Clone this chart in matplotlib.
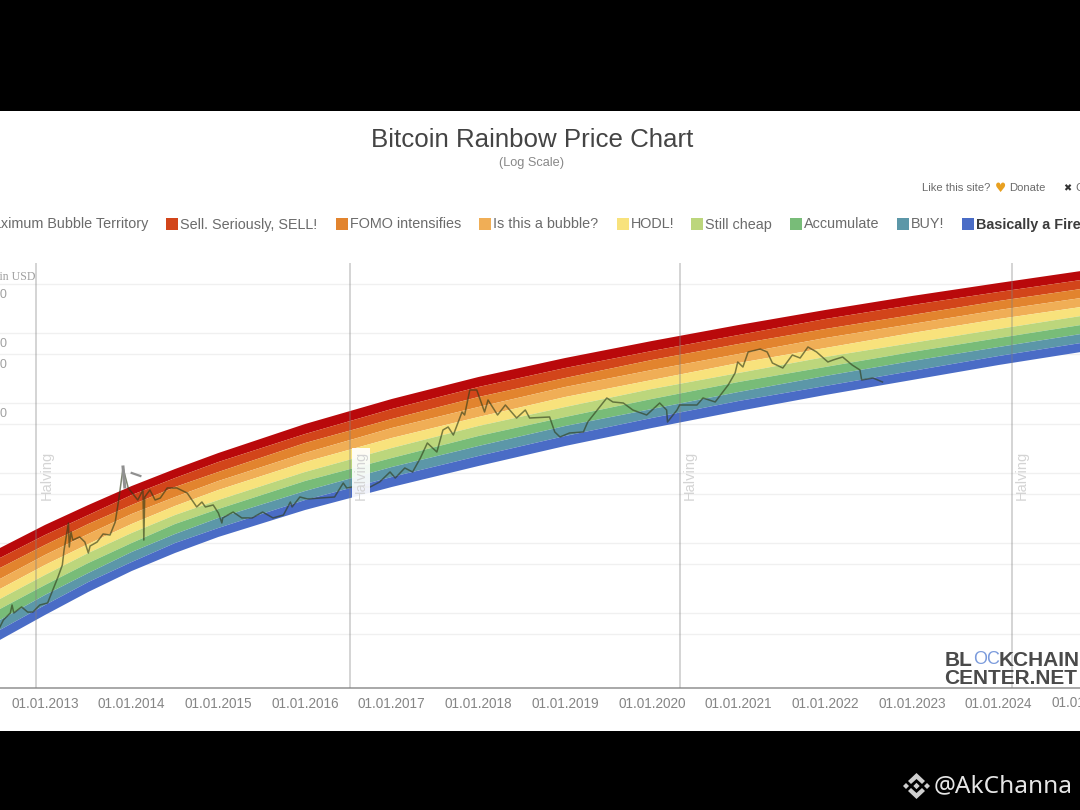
import matplotlib
matplotlib.use("Agg")
import matplotlib.pyplot as plt
from matplotlib.patches import Rectangle, Polygon

plt.rcParams['font.family'] = ['Liberation Sans', 'DejaVu Sans']

TITLE = "Bitcoin Rainbow Price Chart"
SUBTITLE = "(Log Scale)"
band_colors = ['#b9090b', '#d2451a', '#e2842e', '#f0ae56', '#f8e27c',
               '#bcd67c', '#78bc78', '#5c97a8', '#4a6cc6']
legend_labels = ['Maximum Bubble Territory', 'Sell. Seriously, SELL!', 'FOMO intensifies',
                 'Is this a bubble?', 'HODL!', 'Still cheap', 'Accumulate', 'BUY!',
                 'Basically a Fire Sale']

edge_dates = [2012.48, 2013, 2013.5, 2014, 2014.5, 2015, 2016, 2017, 2018, 2019, 2020, 2021, 2022, 2023, 2024, 2024.95]
edge_0 = [84.8, 181, 349, 652, 1141, 1931, 5012, 11410, 23520, 43940, 76850, 130100, 213100, 337700, 517900, 768500]
edge_1 = [61.05, 130, 251, 485, 848, 1436, 3606, 8208, 16930, 31620, 55310, 93630, 158500, 251200, 385400, 571700]
edge_2 = [43.9, 93.6, 187, 349, 631, 1034, 2683, 5907, 12180, 22760, 41150, 69630, 114100, 180800, 286500, 425200]
edge_3 = [30.6, 67.4, 134.5, 260, 454, 769, 1931, 4394, 8766, 16930, 29610, 50120, 84830, 134500, 213100, 316200]
edge_4 = [22.0, 48.5, 96.8, 187, 338, 572, 1436, 3162, 6309, 12180, 21310, 37280, 61050, 100000, 158500, 235200]
edge_5 = [15.85, 34.9, 72, 139, 251, 411, 1034, 2276, 4693, 8766, 15850, 26830, 45410, 71970, 114100, 174900]
edge_6 = [11.4, 25.1, 51.8, 100, 187, 306, 769, 1638, 3377, 6309, 11410, 19950, 32680, 53530, 84830, 130100]
edge_7 = [7.94, 18.1, 37.3, 74.4, 134.5, 228, 553, 1218, 2431, 4693, 8208, 14360, 24310, 39810, 63090, 96750]
edge_8 = [5.72, 13.0, 27.7, 53.5, 100, 164, 411, 877, 1749, 3377, 6105, 10680, 17490, 28650, 46930, 71970]
edge_9 = [4.12, 9.36, 20.0, 39.8, 72, 122, 296, 631, 1259, 2431, 4394, 7685, 13010, 21310, 34900, 53530]
edges = [edge_0, edge_1, edge_2, edge_3, edge_4, edge_5, edge_6, edge_7, edge_8, edge_9]

price_dates = [2012.48, 2012.52, 2012.60, 2012.62, 2012.64, 2012.73, 2012.80, 2012.86, 2012.94, 2013.03,
               2013.09, 2013.15, 2013.20, 2013.22, 2013.27, 2013.28, 2013.30, 2013.32, 2013.40, 2013.46,
               2013.50, 2013.52, 2013.60, 2013.67, 2013.75, 2013.81, 2013.85, 2013.90, 2013.96, 2014.07,
               2014.13, 2014.14, 2014.15, 2014.21, 2014.27, 2014.33, 2014.41, 2014.52, 2014.64, 2014.75,
               2014.81, 2014.85, 2014.94, 2015.00, 2015.04, 2015.05, 2015.17, 2015.27, 2015.39, 2015.51,
               2015.63, 2015.75, 2015.83, 2015.85, 2015.94, 2016.03, 2016.17, 2016.34, 2016.44, 2016.48,
               2016.55, 2016.75, 2016.86, 2016.98, 2017.04, 2017.15, 2017.24, 2017.33, 2017.41, 2017.52,
               2017.59, 2017.65, 2017.71, 2017.81, 2017.84, 2017.90, 2017.98, 2018.07, 2018.11, 2018.22,
               2018.31, 2018.44, 2018.54, 2018.59, 2018.82, 2018.88, 2018.94, 2019.05, 2019.21, 2019.26,
               2019.37, 2019.48, 2019.55, 2019.67, 2019.78, 2019.94, 2020.09, 2020.17, 2020.18, 2020.29,
               2020.32, 2020.52, 2020.59, 2020.73, 2020.88, 2020.96, 2020.99, 2021.05, 2021.11, 2021.25,
               2021.33, 2021.39, 2021.51, 2021.62, 2021.71, 2021.80, 2021.90, 2022.03, 2022.09, 2022.20,
               2022.31, 2022.40, 2022.42, 2022.55, 2022.66]
price_usd = [6.31, 7.94, 10, 13.0, 10, 12.2, 10.3, 10.3, 13.0, 13.9,
             21.3, 32.7, 48.5, 79.4, 193, 87.7, 144, 110, 122, 103,
             72, 90.6, 103, 134.5, 130, 199.5, 411, 1179, 611, 411,
             572, 110, 454, 572, 411, 439, 611, 611, 518, 327,
             385, 327, 349, 268, 193, 228, 277, 228, 228, 277,
             228, 251, 385, 327, 454, 425, 439, 454, 720, 611,
             631, 631, 744, 1034, 848, 1179, 1034, 1638, 2683, 1995,
             4115, 4541, 3490, 7438, 6738, 15340, 15340, 7438, 11040, 6738,
             9363, 6105, 7943, 6105, 6309, 3854, 3268, 3728, 3854, 5353,
             7943, 11790, 10340, 10000, 7943, 6738, 10000, 7943, 5353, 7943,
             9363, 9363, 11790, 10340, 18080, 26830, 38540, 32680, 53530, 59070,
             53530, 37280, 31620, 48500, 43940, 63090, 53530, 38540, 41150, 45410,
             34900, 29610, 21310, 22760, 19950]

marker_dates_a = [2013.90, 2013.92]
marker_usd_a = [1218, 631]
marker_dates_b = [2014.00, 2014.10]
marker_usd_b = [1000, 906]

halving_dates = [2012.90, 2016.52, 2020.32, 2024.15]
halving_label = "Halving"
grid_values = [5, 10, 50, 100, 500, 1000, 5000, 10000, 50000, 100000, 500000]
visible_y_labels = [500000, 100000, 50000, 10000]
year_ticks = [2013, 2014, 2015, 2016, 2017, 2018, 2019, 2020, 2021, 2022, 2023, 2024]
year_labels = ['01.01.%d' % y for y in year_ticks]
extra_year = 2025

fig = plt.figure(figsize=(10.8, 8.1), dpi=100, facecolor='black')

bg = fig.add_axes([0, 0, 1, 1], zorder=0)
bg.set_xlim(0, 1080); bg.set_ylim(810, 0); bg.axis('off')
bg.add_patch(Rectangle((0, 111), 1080, 620, facecolor='white', edgecolor='none'))

ax = fig.add_axes([0, 122 / 810, 1, 425 / 810], zorder=1)
ax.patch.set_alpha(0)
ax.set_yscale('log')
ax.set_xlim(2012.481, 2024.938)
ax.set_ylim(0.848, 1e6)

ax.set_yticks(grid_values)
ax.set_yticks([], minor=True)
ax.tick_params(axis='y', which='both', length=0, labelleft=False)
ax.yaxis.grid(True, color='#f0f0f0', lw=1)
ax.set_axisbelow(True)
ax.set_xticks(year_ticks)
ax.set_xticklabels(year_labels, fontsize=9.8, color='#858585')
ax.tick_params(axis='x', length=0, pad=6.5)
for s in ['top', 'left', 'right']:
    ax.spines[s].set_visible(False)
ax.spines['bottom'].set_color('#999999')
ax.spines['bottom'].set_linewidth(1.2)
ax.annotate('01.01.%d' % extra_year, xy=(extra_year, 0.848), xytext=(0, -15), textcoords='offset pixels',
            annotation_clip=False, ha='center', va='center', fontsize=9.8, color='#858585')

for i, c in enumerate(band_colors):
    ax.fill_between(edge_dates, edges[i + 1], edges[i], color=c, lw=0, zorder=2)

for d in halving_dates:
    ax.axvline(d, color='#808080', alpha=0.36, lw=1.3, zorder=3)

ax.plot(price_dates, price_usd, color='#2e3a18', alpha=0.62, lw=1.1, zorder=4)
ax.plot(marker_dates_a, marker_usd_a, color='#909090', lw=2.2, zorder=5)
ax.plot(marker_dates_b, marker_usd_b, color='#909090', lw=1.6, zorder=5)

for i, d in enumerate(halving_dates):
    bbox = dict(facecolor='white', edgecolor='none', alpha=0.92, pad=1.5) if i == 1 else None
    ax.annotate(halving_label, xy=(d, 936), xytext=(10.5, 0), textcoords='offset pixels',
                rotation=90, ha='center', va='center', fontsize=10.5,
                color='#d4d4d4', bbox=bbox, zorder=6)

for v in visible_y_labels:
    ax.annotate(str(v), xy=(0, v), xycoords=('axes fraction', 'data'), xytext=(7, -11),
                textcoords='offset pixels', ha='right', va='center', fontsize=9, color='#a0a0a0',
                annotation_clip=False)

fg = fig.add_axes([0, 0, 1, 1], zorder=2)
fg.set_xlim(0, 1080); fg.set_ylim(810, 0); fg.axis('off')
fg.text(532, 140, TITLE, ha='center', va='center', fontsize=18.6, color='#444444')
fg.text(532, 163, SUBTITLE, ha='center', va='center', fontsize=9.2, color='#888888')
fg.text(36, 277, 'Price in USD', ha='right', va='center', fontsize=8.6, color='#a0a0a0',
        family='Liberation Serif')

legend_x = [None, 166, 336, 479, 617, 691, 790, 897, 962]
legend_y = 224
fg.text(148, legend_y, legend_labels[0], ha='right', va='center', fontsize=10.4, color='#6b6b6b')
for i in range(1, 9):
    x = legend_x[i]
    fg.add_patch(Rectangle((x, legend_y - 6), 12, 12, facecolor=band_colors[i], edgecolor='none'))
    bold = i == 8
    fg.text(x + 14, legend_y + 0.5, legend_labels[i], ha='left', va='center', fontsize=10.4,
            color='#3c3c3c' if bold else '#6b6b6b', fontweight='bold' if bold else 'normal')

fg.text(922, 188, 'Like this site?', ha='left', va='center', fontsize=8.1, color='#6b6b6b')
fg.text(1000, 188, '\u2665', ha='center', va='center', fontsize=9, color='#e8a020', family='DejaVu Sans')
fg.text(1009, 188, 'Donate', ha='left', va='center', fontsize=8.1, color='#6b6b6b')
fg.text(1067, 188, '\u2716', ha='center', va='center', fontsize=7, color='#333333', family='DejaVu Sans')
fg.text(1075, 188, 'Close', ha='left', va='center', fontsize=8.1, color='#6b6b6b')

fg.text(945, 660, 'BL', ha='left', va='center', fontsize=15, color='#4a4a4a', fontweight='bold')
fg.text(973, 660, 'OC', ha='left', va='center', fontsize=13, color='#7b9bdc')
fg.text(999, 660, 'KCHAIN', ha='left', va='center', fontsize=15, color='#4a4a4a', fontweight='bold')
fg.text(944, 678, 'CENTER.NET', ha='left', va='center', fontsize=15, color='#4a4a4a', fontweight='bold')

fg.text(934, 786, '@AkChanna', ha='left', va='center', fontsize=17.6, color='#e6e6e6', family='Noto Sans')
def diamond(cx, cy, r):
    fg.add_patch(Polygon([(cx - r, cy), (cx, cy - r), (cx + r, cy), (cx, cy + r)],
                         closed=True, facecolor='#cfcfcf', edgecolor='none'))
for cx, cy, r in [(906, 786, 3), (927, 786, 3), (916.5, 786, 3.2)]:
    diamond(cx, cy, r)
fg.add_patch(Polygon([(916.5, 773), (925, 781), (922, 784), (916.5, 779), (911, 784), (908, 781)],
                     closed=True, facecolor='#cfcfcf', edgecolor='none'))
fg.add_patch(Polygon([(916.5, 799), (925, 791), (922, 788), (916.5, 793), (911, 788), (908, 791)],
                     closed=True, facecolor='#cfcfcf', edgecolor='none'))

fig.savefig('out.png', dpi=100, facecolor='black')
